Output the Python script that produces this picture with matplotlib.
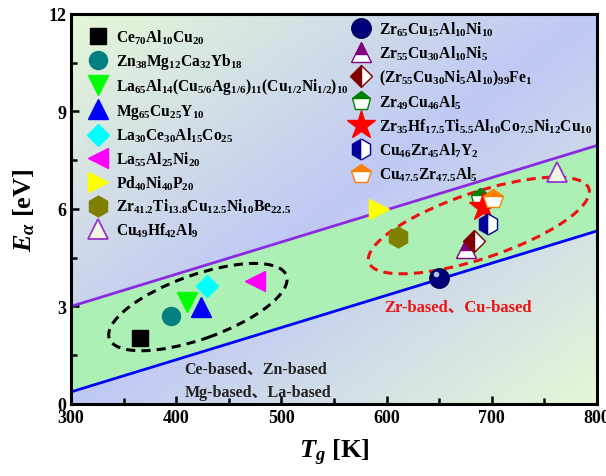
import matplotlib
matplotlib.use("Agg")
import matplotlib.pyplot as plt
import numpy as np
from matplotlib.patches import Ellipse
from matplotlib.transforms import Affine2D, ScaledTranslation

plt.rcParams['font.family'] = ['Liberation Serif', 'Noto Sans CJK SC']
plt.rcParams['font.weight'] = 'bold'
plt.rcParams['mathtext.fontset'] = 'custom'
plt.rcParams['mathtext.rm'] = 'Liberation Serif:bold'
plt.rcParams['mathtext.bf'] = 'Liberation Serif:bold'
plt.rcParams['mathtext.it'] = 'Liberation Serif:italic:bold'

# boundary lines of the band (Tg in K, E in eV)
line_x = [300, 800]
upper_y = [3.0, 7.95]
lower_y = [0.37, 5.32]

# alloys: label, Tg, E_alpha
left_labels = [
    r'Ce$_{70}$Al$_{10}$Cu$_{20}$',
    r'Zn$_{38}$Mg$_{12}$Ca$_{32}$Yb$_{18}$',
    r'La$_{65}$Al$_{14}$(Cu$_{5/6}$Ag$_{1/6}$)$_{11}$(Cu$_{1/2}$Ni$_{1/2}$)$_{10}$',
    r'Mg$_{65}$Cu$_{25}$Y$_{10}$',
    r'La$_{30}$Ce$_{30}$Al$_{15}$Co$_{25}$',
    r'La$_{55}$Al$_{25}$Ni$_{20}$',
    r'Pd$_{40}$Ni$_{40}$P$_{20}$',
    r'Zr$_{41.2}$Ti$_{13.8}$Cu$_{12.5}$Ni$_{10}$Be$_{22.5}$',
    r'Cu$_{49}$Hf$_{42}$Al$_{9}$',
]
left_tg = [366, 395, 410, 424, 429, 475, 593, 611, 762]
left_e = [2.02, 2.70, 3.15, 2.98, 3.62, 3.78, 6.0, 5.12, 7.14]

right_labels = [
    r'Zr$_{65}$Cu$_{15}$Al$_{10}$Ni$_{10}$',
    r'Zr$_{55}$Cu$_{30}$Al$_{10}$Ni$_{5}$',
    r'(Zr$_{55}$Cu$_{30}$Ni$_{5}$Al$_{10}$)$_{99}$Fe$_{1}$',
    r'Zr$_{49}$Cu$_{46}$Al$_{5}$',
    r'Zr$_{35}$Hf$_{17.5}$Ti$_{5.5}$Al$_{10}$Co$_{7.5}$Ni$_{12}$Cu$_{10}$',
    r'Cu$_{46}$Zr$_{45}$Al$_{7}$Y$_{2}$',
    r'Cu$_{47.5}$Zr$_{47.5}$Al$_{5}$',
]
right_tg = [650, 676, 683, 689, 692, 696, 701]
right_e = [3.88, 4.80, 5.02, 6.32, 6.05, 5.54, 6.30]

left_styles = [
    dict(marker='s', color='black', ms=11),
    dict(marker='o', color='#008080', ms=13),
    dict(marker='v', color='#00ff00', ms=14),
    dict(marker='^', color='#0000ff', ms=14),
    dict(marker='D', color='#00ffff', ms=11),
    dict(marker='<', color='#ff00ff', ms=14),
    dict(marker='>', color='#ffff00', ms=14),
    dict(marker='h', color='#808000', ms=15),
    dict(marker='^', color='#f2f8e0', ms=14, mec='#9933cc', mew=1.3),
]
right_styles = [
    dict(marker='o', color='#00007a', ms=14, mec='#000050'),
    dict(marker='^', color='#800080', ms=14, fillstyle='top', mfcalt='white'),
    dict(marker='D', color='#800000', ms=11, fillstyle='left', mfcalt='white'),
    dict(marker='p', color='#008000', ms=14, fillstyle='top', mfcalt='white'),
    dict(marker='*', color='#ff0000', ms=21),
    dict(marker='h', color='#000099', ms=15, fillstyle='left', mfcalt='white'),
    dict(marker='p', color='#ff8000', ms=15, fillstyle='top', mfcalt='white'),
]

fig = plt.figure(figsize=(6.06, 4.77), dpi=100)
ax = fig.add_axes([0.117, 0.151, 0.868, 0.818])
ax.set_xlim(300, 800)
ax.set_ylim(0, 12)

# diagonal background gradient green -> lavender -> green
u, v = np.meshgrid(np.linspace(0, 1, 300), np.linspace(1, 0, 300))
t = np.clip(np.abs(u - v), 0, 1)[..., None]
blue = np.array([192, 200, 245]) / 255
green = np.array([230, 248, 214]) / 255
img = blue * (1 - t) + green * t
ax.imshow(img, extent=[0, 1, 0, 1], transform=ax.transAxes, aspect='auto', zorder=0)

ax.fill_between(line_x, lower_y, upper_y, color='#adf0b5', zorder=1)
ax.plot(line_x, upper_y, color='#8a2be2', lw=2, zorder=2)
ax.plot(line_x, lower_y, color='#0000ff', lw=2, zorder=2)

# dashed ellipses, defined in pixel units then mapped to data units
px_x = 526 / 500
px_y = 390 / 12
for cx, cy, a, b, ang, col in [(420.7, 2.98, 94, 32, 19.6, 'black'),
                                (687.8, 5.49, 116, 33, 18.5, '#ee1111')]:
    tr = Affine2D().scale(1 / px_x, 1 / px_y).translate(cx, cy) + ax.transData
    ax.add_patch(Ellipse((0, 0), 2 * a, 2 * b, angle=ang, transform=tr, fill=False,
                         ec=col, lw=2.2, ls=(0, (3, 2)), zorder=3))


def draw(labels, xs, ys, styles):
    handles = []
    for lab, x, y, st in zip(labels, xs, ys, styles):
        st = dict(st)
        alt = st.pop('mfcalt', None)
        h, = ax.plot([x], [y], ls='none', label=lab, zorder=4,
                     markerfacecoloralt=alt if alt else 'none',
                     mec=st.pop('mec', st['color']), **st)
        handles.append(h)
    return handles


h_left = draw(left_labels, left_tg, left_e, left_styles)
h_right = draw(right_labels, right_tg, right_e, right_styles)

# glossy highlight on the sphere marker
glint = ScaledTranslation(-2.5 / 72, 2.5 / 72, fig.dpi_scale_trans)
ax.plot([right_tg[0]], [right_e[0]], 'o', ms=4, color='white', alpha=0.75,
        mec='none', transform=ax.transData + glint, zorder=5)

leg1 = ax.legend(handles=h_left, loc='upper left', bbox_to_anchor=(0.008, 0.993),
                 frameon=False, fontsize=11.2, labelspacing=0.34, handletextpad=0.3,
                 handlelength=1.6, borderaxespad=0.3)
ax.add_artist(leg1)
ax.legend(handles=h_right, loc='upper left', bbox_to_anchor=(0.508, 1.014),
          frameon=False, fontsize=11.2, labelspacing=0.37, handletextpad=0.3,
          handlelength=1.6, borderaxespad=0.3)

ax.text(668, 3.0, 'Zr-based、Cu-based', color='#ee1111', fontsize=12,
        fontweight='bold', ha='center', va='center', zorder=5)
ax.text(408, 0.72, 'Ce-based、Zn-based\nMg-based、La-based', color='#222222',
        fontsize=11.5, fontweight='bold', ha='left', va='center', linespacing=1.55, zorder=5)

ax.set_xticks(range(300, 801, 100))
ax.set_xticks(range(350, 800, 100), minor=True)
ax.set_yticks([0, 3, 6, 9, 12])
ax.set_yticks([1.5, 4.5, 7.5, 10.5], minor=True)
ax.tick_params(which='both', direction='in', width=1.8, labelsize=13)
ax.tick_params(which='major', length=6)
ax.tick_params(which='minor', length=4)
for s in ax.spines.values():
    s.set_linewidth(2.2)
    s.set_zorder(6)

ax.set_xlabel(r'$T_g$ [K]', fontsize=19, fontweight='bold', labelpad=8)
ax.set_ylabel(r'$E_\alpha$ [eV]', fontsize=19, fontweight='bold', labelpad=8)

fig.savefig('out.png', dpi=100)
